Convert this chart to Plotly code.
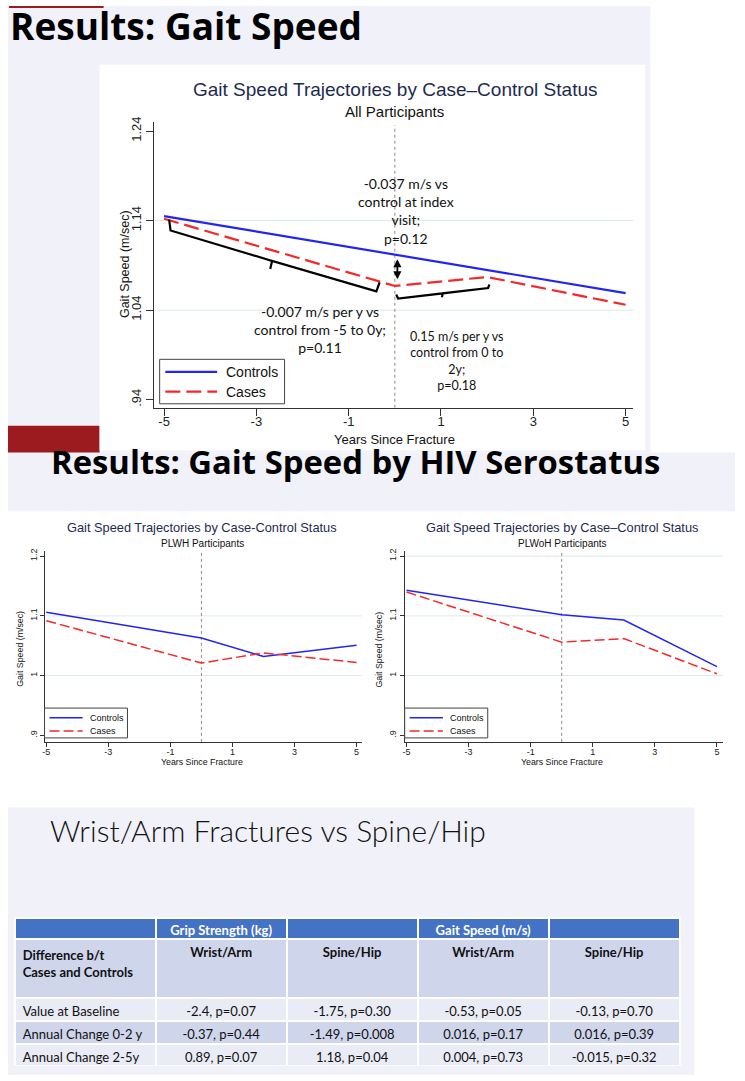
import plotly.graph_objects as go

W, H = 745, 1081
ARIAL = "Liberation Sans"
CALIBRI = "Lato"
GILL = "Open Sans"

# ---- data ----
YEARS = [-5, 0, 2, 5]
ALL_CONTROLS = [1.145, 1.102, 1.085, 1.059]
ALL_CASES = [1.142, 1.067, 1.077, 1.046]
PLWH_CONTROLS = [1.106, 1.063, 1.032, 1.051]
PLWH_CASES = [1.092, 1.021, 1.038, 1.022]
PLWOH_CONTROLS = [1.143, 1.102, 1.093, 1.015]
PLWOH_CASES = [1.140, 1.056, 1.062, 1.003]

X_TICKS = [-5, -3, -1, 1, 3, 5]
X_LABELS = ["-5", "-3", "-1", "1", "3", "5"]
MAIN_Y_TICKS = [0.94, 1.04, 1.14, 1.24]
MAIN_Y_LABELS = [".94", "1.04", "1.14", "1.24"]
SMALL_Y_TICKS = [0.9, 1.0, 1.1, 1.2]
SMALL_Y_LABELS = [".9", "1", "1.1", "1.2"]

GROUP_HEADER = ["", "Grip Strength (kg)", "", "Gait Speed (m/s)", ""]
SUB_HEADER = ["Difference b/t<br>Cases and Controls", "Wrist/Arm", "Spine/Hip", "Wrist/Arm", "Spine/Hip"]
ROW_LABELS = ["Value at Baseline", "Annual Change 0-2 y", "Annual Change 2-5y"]
GRIP_WRIST = ["-2.4, p=0.07", "-0.37, p=0.44", "0.89, p=0.07"]
GRIP_SPINE = ["-1.75, p=0.30", "-1.49, p=0.008", "1.18, p=0.04"]
GAIT_WRIST = ["-0.53, p=0.05", "0.016, p=0.17", "0.004, p=0.73"]
GAIT_SPINE = ["-0.13, p=0.70", "0.016, p=0.39", "-0.015, p=0.32"]

BLUE = "#2424F0"
RED = "#F42828"
NAVY = "#1E2B4F"
GRID = "#DCE8EC"
AXIS = "#333333"
ROW_DARK = "#CFD5EA"
ROW_LIGHT = "#E9EBF5"


def px(x):
    return x / W


def py(y):
    return 1 - y / H


fig = go.Figure()

# ---- line traces ----
panels = [
    ("x", "y", ALL_CONTROLS, ALL_CASES, 2.2, "15px,6px"),
    ("x2", "y2", PLWH_CONTROLS, PLWH_CASES, 1.5, "10px,4px"),
    ("x3", "y3", PLWOH_CONTROLS, PLWOH_CASES, 1.5, "10px,4px"),
]
for xa, ya, ctrl, case, lw, dash in panels:
    fig.add_trace(go.Scatter(x=YEARS, y=ctrl, mode="lines", name="Controls", xaxis=xa, yaxis=ya,
                             line=dict(color=BLUE, width=lw), showlegend=False))
    fig.add_trace(go.Scatter(x=YEARS, y=case, mode="lines", name="Cases", xaxis=xa, yaxis=ya,
                             line=dict(color=RED, width=lw, dash=dash), showlegend=False))


def x_axis(domain, rng, anchor, size, ticklen, standoff):
    return dict(domain=domain, range=rng, anchor=anchor, tickvals=X_TICKS, ticktext=X_LABELS,
                ticks="outside", ticklen=ticklen, tickcolor=AXIS, showline=True, linecolor=AXIS,
                linewidth=1, showgrid=False, zeroline=False, fixedrange=True,
                ticklabelstandoff=standoff, tickfont=dict(family=ARIAL, size=size, color="#222"))


def y_axis(domain, rng, anchor, vals, labels, size, ticklen):
    return dict(domain=domain, range=rng, anchor=anchor, tickvals=vals, ticktext=labels,
                tickangle=-90, ticks="outside", ticklen=ticklen, tickcolor=AXIS, showline=True,
                linecolor=AXIS, linewidth=1, showgrid=False, zeroline=False, fixedrange=True,
                tickfont=dict(family=ARIAL, size=size, color="#222"))


fig.update_layout(
    width=W, height=H, margin=dict(l=0, r=0, t=0, b=0),
    paper_bgcolor="white", plot_bgcolor="rgba(0,0,0,0)", showlegend=False,
    xaxis=x_axis([px(152), px(633)], [-5.21, 5.17], "y", 13, 7, -5),
    yaxis=y_axis([py(404), py(117)], [0.931, 1.2497], "x", MAIN_Y_TICKS, MAIN_Y_LABELS, 13, 7),
    xaxis2=x_axis([px(42.5), px(360)], [-5.03, 5.16], "y2", 9, 4, -3),
    yaxis2=y_axis([py(740), py(548)], [0.8889, 1.2088], "x2", SMALL_Y_TICKS, SMALL_Y_LABELS, 9, 4),
    xaxis3=x_axis([px(403.3), px(722.7)], [-5.06, 5.19], "y3", 9, 4, -3),
    yaxis3=y_axis([py(740), py(548)], [0.8889, 1.2088], "x3", SMALL_Y_TICKS, SMALL_Y_LABELS, 9, 4),
)

shapes = []
# slide backgrounds
for x0, x1, y0, y1 in [(5, 650, 0, 449), (5, 735, 449, 508), (5, 694, 806, 1075)]:
    shapes.append(dict(type="rect", xref="paper", yref="paper", x0=px(x0), x1=px(x1), y0=py(y1), y1=py(y0),
                       fillcolor="#F1F2F9", line_width=0, layer="below"))
# red accent bars
shapes.append(dict(type="rect", xref="paper", yref="paper", x0=px(6), x1=px(101), y0=py(2), y1=py(0),
                   fillcolor="#9B1B1E", line_width=0, layer="below"))
shapes.append(dict(type="rect", xref="paper", yref="paper", x0=px(5), x1=px(97), y0=py(449), y1=py(422),
                   fillcolor="#9B1B1E", line_width=0, layer="below"))
# white chart box of the first slide
shapes.append(dict(type="rect", xref="paper", yref="paper", x0=px(97), x1=px(645), y0=py(447), y1=py(59),
                   fillcolor="white", line_width=0, layer="below"))

# grid lines and the dotted index line
for xa, ya, grid_vals, top in [("x", "y", [1.04, 1.14], 0.99), ("x2", "y2", [1.0, 1.1], 1.0),
                               ("x3", "y3", [1.0, 1.1, 1.2], 1.0)]:
    for g in grid_vals:
        shapes.append(dict(type="line", xref=xa + " domain", yref=ya, x0=0, x1=1, y0=g, y1=g,
                           line=dict(color=GRID, width=1), layer="below"))
    shapes.append(dict(type="line", xref=xa, yref=ya + " domain", x0=0, x1=0, y0=0, y1=top,
                       line=dict(color="#8A8A8A", width=1, dash="dot"), layer="below"))

# braces on the main chart
BRACE_1 = [(-4.89, 1.141), (-4.86, 1.129), (-2.66, 1.095), (-2.70, 1.086), (-2.66, 1.095),
           (-0.40, 1.061), (-0.33, 1.071)]
BRACE_2 = [(0.03, 1.0574), (0.07, 1.053), (1.04, 1.0588), (1.02, 1.0545), (1.04, 1.0588),
           (2.02, 1.0647), (2.05, 1.0686)]
for brace in [BRACE_1, BRACE_2]:
    path = "M " + " L ".join(f"{bx},{by}" for bx, by in brace)
    shapes.append(dict(type="path", xref="x", yref="y", path=path,
                       line=dict(color="black", width=2.2)))

annotations = []


# manual legends
def legend_box(x0, y0, x1, y1, lx0, lx1, tx, rows, size, lw, dash):
    shapes.append(dict(type="rect", xref="paper", yref="paper", x0=px(x0), x1=px(x1), y0=py(y1), y1=py(y0),
                       fillcolor="white", line=dict(color="#444", width=1)))
    for (label, color, d), ry in zip([("Controls", BLUE, None), ("Cases", RED, dash)], rows):
        shapes.append(dict(type="line", xref="paper", yref="paper", x0=px(lx0), x1=px(lx1), y0=py(ry), y1=py(ry),
                           line=dict(color=color, width=lw, dash=d)))
        annotations.append(dict(x=px(tx), y=py(ry), xref="paper", yref="paper", text=label, showarrow=False,
                                xanchor="left", yanchor="middle", font=dict(family=ARIAL, size=size, color="#111")))


legend_box(157.3, 355.3, 282.7, 400, 163, 215, 222, [368, 387.7], 14, 2.2, "15px,6px")
legend_box(41.7, 706, 125, 736, 46.7, 80, 85, [715.7, 729], 9, 1.5, "10px,4px")
legend_box(403.3, 706, 486.7, 736, 408.3, 441.7, 447, [715.7, 729], 9, 1.5, "10px,4px")


def text(x, y, s, size, family=ARIAL, color="#111", anchor="center", angle=0, weight="normal"):
    annotations.append(dict(x=px(x), y=py(y), xref="paper", yref="paper", text=s, showarrow=False,
                            xanchor=anchor, yanchor="middle", textangle=angle,
                            font=dict(family=family, size=size, color=color, weight=weight)))


# slide titles
text(5, 20, "Results: Gait Speed", 37, GILL, "black", "left", weight="bold")
text(46, 458, "Results: Gait Speed by HIV Serostatus", 32.8, GILL, "black", "left", weight="bold")
text(45, 829, "Wrist/Arm Fractures vs Spine/Hip", 30, CALIBRI, "#111", "left", weight=300)

# main chart texts
text(394, 84, "Gait Speed Trajectories by Case\u2013Control Status", 19, color=NAVY)
text(393, 106, "All Participants", 15)
text(122, 260, "Gait Speed (m/sec)", 12.5, angle=-90)
text(393.5, 435.5, "Years Since Fracture", 13)
text(405, 206, "-0.037 m/s vs<br>control at index<br>visit;<br>p=0.12", 14, CALIBRI)
text(318, 325, "-0.007 m/s per y vs<br>control from -5 to 0y;<br>p=0.11", 14, CALIBRI)
text(456, 357, "0.15 m/s per y vs<br>control from 0 to<br>2y;<br>p=0.18", 12.5, CALIBRI)

# small chart texts
for cx, subtitle, dash_char, ytx in [(200, "PLWH Participants", "-", 16.7),
                                     (561.7, "PLWoH Participants", "\u2013", 378)]:
    text(cx, 524, f"Gait Speed Trajectories by Case{dash_char}Control Status", 12.8, color=NAVY)
    text(cx, 540, subtitle, 10)
    text(cx, 760, "Years Since Fracture", 8.8)
    text(ytx, 646.7, "Gait Speed (m/sec)", 8.8, angle=-90)

# double arrow at index visit
annotations.append(dict(x=0.055, y=1.0745, ax=0.055, ay=1.0985, xref="x", yref="y", axref="x", ayref="y",
                        text="", showarrow=True, arrowhead=2, arrowside="end+start", arrowsize=0.9,
                        arrowwidth=1.8, arrowcolor="black"))

# ---- table (two stacked tables so the sub-header row can be taller) ----
ALIGN = ["left", "center", "center", "center", "center"]
COL_W = [1.06, 0.985, 0.985, 0.985, 0.985]
TABLE_X = [px(11.7), px(680)]
WHITE_LINE = dict(color="white", width=2)
fig.add_trace(go.Table(
    domain=dict(x=TABLE_X, y=[py(997.3), py(916.7)]),
    columnwidth=COL_W,
    header=dict(values=GROUP_HEADER, fill_color="#4472C4", line=WHITE_LINE, height=21.6,
                font=dict(family=CALIBRI, size=13, color="white", weight="bold"), align="center"),
    cells=dict(values=SUB_HEADER, fill_color=ROW_DARK, line=WHITE_LINE, height=59,
               font=dict(family=CALIBRI, size=13, color="#111", weight="bold"), align=ALIGN),
))
data_cols = [ROW_LABELS, GRIP_WRIST, GRIP_SPINE, GAIT_WRIST, GAIT_SPINE]
fig.add_trace(go.Table(
    domain=dict(x=TABLE_X, y=[py(1066), py(997.3)]),
    columnwidth=COL_W,
    header=dict(values=[c[0] for c in data_cols], fill_color=ROW_LIGHT, line=WHITE_LINE, height=23.4,
                font=dict(family=CALIBRI, size=13, color="#111"), align=ALIGN),
    cells=dict(values=[c[1:] for c in data_cols], fill_color=[[ROW_DARK, ROW_LIGHT]] * 5, line=WHITE_LINE,
               height=22.6, font=dict(family=CALIBRI, size=13, color="#111"), align=ALIGN),
))

fig.update_layout(shapes=shapes, annotations=annotations)
fig.write_html("out.html", config={"displayModeBar": False},
               post_script="document.body.style.margin = '0px';")
